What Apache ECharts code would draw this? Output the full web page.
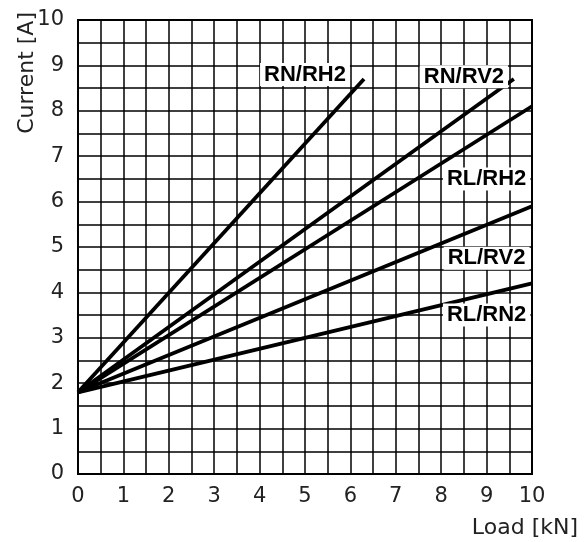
<!DOCTYPE html>
<html>
<head>
<meta charset="utf-8">
<script src="https://cdn.jsdelivr.net/npm/echarts@6/dist/echarts.min.js"></script>
<style>
html,body{margin:0;padding:0;background:#fff;}
#chart{width:587px;height:542px;}
</style>
</head>
<body>
<div id="chart"></div>
<script>
const seriesNames = ['RN/RH2', 'RN/RV2', 'RL/RH2', 'RL/RV2', 'RL/RN2'];
const startLoad = 0;
const startCurrent = 1.8;
const endLoad = [6.3, 9.6, 10, 10, 10];
const endCurrent = [8.7, 8.7, 8.1, 5.9, 4.2];
const labelLoad = [5.0, 8.5, 9.0, 9.0, 9.0];
const labelCurrent = [8.8, 8.75, 6.5, 4.75, 3.5];
const xTickLabels = ['0','1','2','3','4','5','6','7','8','9','10'];
const yTickLabels = ['0','1','2','3','4','5','6','7','8','9','10'];

const chart = echarts.init(document.getElementById('chart'));

const lineSeries = seriesNames.map((name, i) => ({
  name: name,
  type: 'line',
  data: [[startLoad, startCurrent], [endLoad[i], endCurrent[i]]],
  symbol: 'none',
  lineStyle: { color: '#000', width: 3.8, cap: 'butt', opacity: 1 },
  z: 3,
  silent: true,
  animation: false
}));

const labelSeries = {
  type: 'scatter',
  data: seriesNames.map((name, i) => [labelLoad[i], labelCurrent[i], name]),
  symbolSize: 1,
  itemStyle: { opacity: 0 },
  z: 5,
  silent: true,
  animation: false,
  label: {
    show: true,
    position: 'inside',
    formatter: p => p.data[2],
    fontFamily: 'Liberation Sans',
    fontWeight: 'bold',
    fontSize: 22,
    color: '#000',
    opacity: 1,
    textBorderWidth: 0,
    backgroundColor: '#fff',
    padding: [1, 4, 0, 4]
  }
};

const axisLabelStyle = {
  fontFamily: 'DejaVu Sans',
  fontSize: 21,
  color: '#222'
};

chart.setOption({
  animation: false,
  backgroundColor: '#fff',
  grid: {
    left: 78, right: 55, top: 20, bottom: 68,
    show: true, borderColor: '#000', borderWidth: 2, backgroundColor: 'transparent'
  },
  xAxis: {
    type: 'value', min: 0, max: 10, interval: 1,
    axisLine: { show: true, lineStyle: { color: '#000', width: 2 } },
    axisTick: { show: false },
    splitLine: { show: true, lineStyle: { color: '#000', width: 1.5 } },
    minorTick: { show: false, splitNumber: 2 },
    minorSplitLine: { show: true, lineStyle: { color: '#000', width: 1.5 } },
    axisLabel: Object.assign({ margin: 12, formatter: v => xTickLabels[Math.round(v)] }, axisLabelStyle)
  },
  yAxis: {
    type: 'value', min: 0, max: 10, interval: 1,
    axisLine: { show: true, lineStyle: { color: '#000', width: 2 } },
    axisTick: { show: false },
    splitLine: { show: true, lineStyle: { color: '#000', width: 1.5 } },
    minorTick: { show: false, splitNumber: 2 },
    minorSplitLine: { show: true, lineStyle: { color: '#000', width: 1.5 } },
    axisLabel: Object.assign({ margin: 14, formatter: v => yTickLabels[Math.round(v)] }, axisLabelStyle)
  },
  graphic: [
    {
      type: 'text', x: 27, y: 12, rotation: Math.PI / 2,
      style: { text: 'Current [A]', align: 'right', verticalAlign: 'middle',
        fontFamily: 'DejaVu Sans', fontSize: 22, fill: '#222' }
    },
    {
      type: 'text', x: 578, y: 528,
      style: { text: 'Load [kN]', align: 'right', verticalAlign: 'middle',
        fontFamily: 'DejaVu Sans', fontSize: 22, fill: '#222' }
    }
  ],
  series: lineSeries.concat([labelSeries])
});
</script>
</body>
</html>
